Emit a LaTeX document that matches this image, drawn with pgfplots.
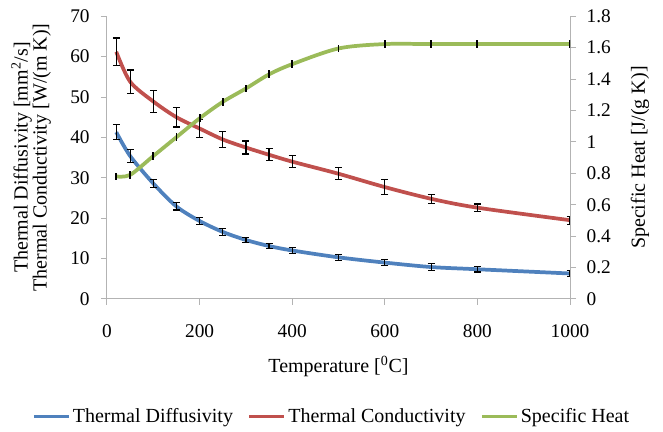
\documentclass[border=0pt]{standalone}
\usepackage{fontspec}
\setmainfont{Liberation Serif}
\usepackage{pgfplots}
\pgfplotsset{compat=1.18}
\usepackage{pgfplotstable}
\definecolor{cblue}{HTML}{4F81BD}
\definecolor{cred}{HTML}{C0504D}
\definecolor{cgreen}{HTML}{9BBB59}
\definecolor{axgray}{HTML}{B3B3B3}

\pgfplotstableread{
x y e
20 41.3 1.8
50 35.4 1.6
100 28.6 1.0
150 22.9 0.9
200 19.3 0.9
250 16.6 0.8
300 14.6 0.7
350 13.1 0.7
400 12.0 0.7
500 10.3 0.7
600 9.0 0.7
700 7.9 0.8
800 7.35 0.7
1000 6.3 0.8
}\diff

\pgfplotstableread{
x y e
20 61.2 3.4
50 53.8 2.9
100 48.9 2.7
150 45.0 2.4
200 42.2 2.3
250 39.5 2.0
300 37.5 1.6
350 35.7 1.5
400 34.0 1.5
500 31.0 1.5
600 27.7 1.8
700 24.8 1.1
800 22.6 0.9
1000 19.5 1.0
}\cond

\pgfplotstableread{
x y e
20 0.78 0.025
50 0.79 0.025
100 0.91 0.025
150 1.03 0.025
200 1.15 0.025
250 1.255 0.025
300 1.34 0.025
350 1.43 0.025
400 1.495 0.025
500 1.595 0.025
600 1.623 0.025
700 1.623 0.025
800 1.623 0.025
1000 1.623 0.025
}\spec

\pgfplotsset{
  mystyle/.style={
    scale only axis, width=347.25pt, height=212pt,
    xmin=0, xmax=1000,
    axis line style={draw=axgray, line width=0.75pt},
    tick style={draw=axgray, line width=0.75pt},
    major tick length=4.5pt, tick align=outside,
    /pgf/number format/assume math mode=true,
    /pgf/number format/1000 sep={},
    ticklabel style={font=\fontsize{14.5}{16}\selectfont, black},
    label style={font=\fontsize{15}{14.25}\selectfont},
    error bars/error bar style={black, line width=0.9pt},
    error bars/error mark options={rotate=90, black, line width=0.9pt, mark size=2.6pt},
  },
  curve/.style={smooth, tension=0.5, no markers, line width=2.8pt},
}

\begin{document}
\begin{tikzpicture}
\begin{axis}[mystyle, name=ax,
  axis x line*=bottom, axis y line*=left,
  ymin=0, ymax=70, ytick={0,10,20,30,40,50,60,70},
  xtick={0,200,400,600,800,1000},
  xticklabel style={yshift=-11pt},
  yticklabel style={xshift=-5pt},
  xlabel={Temperature [\textsuperscript{0}C]},
  xlabel style={at={(axis description cs:0.5,-0.240)}, anchor=center},
  ylabel={Thermal Diffusivity [mm\textsuperscript{2}/s]\\Thermal Conductivity [W/(m K)]},
  ylabel style={align=center, at={(axis description cs:-0.1637,0.5)}, anchor=center},
  legend style={at={(0.486,-0.417)}, anchor=center, draw=none, fill=none,
    font=\fontsize{15}{15}\selectfont,
    /tikz/every even column/.append style={column sep=9pt}},
  legend columns=3,
  legend image code/.code={\draw[#1, line width=2.5pt] (0pt,0pt) -- (26pt,0pt);},
]
\addplot[curve, cblue, error bars/.cd, y dir=both, y explicit] table[x=x, y=y, y error=e]{\diff};
\addlegendentry{Thermal Diffusivity}
\addplot[curve, cred, error bars/.cd, y dir=both, y explicit] table[x=x, y=y, y error=e]{\cond};
\addlegendentry{Thermal Conductivity}
\addlegendimage{cgreen, line width=2.5pt}
\addlegendentry{Specific Heat}
\coordinate (bl) at (rel axis cs:0,0);
\coordinate (tr) at (rel axis cs:1,1);
\end{axis}
\begin{axis}[mystyle,
  axis y line*=right, axis x line=none,
  ymin=0, ymax=1.8, ytick={0,0.2,0.4,0.6,0.8,1,1.2,1.4,1.6,1.8},
  yticklabel style={xshift=4.5pt},
  ylabel={Specific Heat [J/(g K)]},
  ylabel style={at={(axis description cs:1.151,0.5)}, anchor=center},
]
\addplot[curve, cgreen, error bars/.cd, y dir=both, y explicit, error mark=none,
  error bar style={black, line width=1.4pt}] table[x=x, y=y, y error=e]{\spec};
\end{axis}
\pgfresetboundingbox
\path[use as bounding box] (bl) ++(-80.25pt,-99.75pt) rectangle ([shift={(69.75pt,12.2pt)}]tr);
\end{tikzpicture}
\end{document}
